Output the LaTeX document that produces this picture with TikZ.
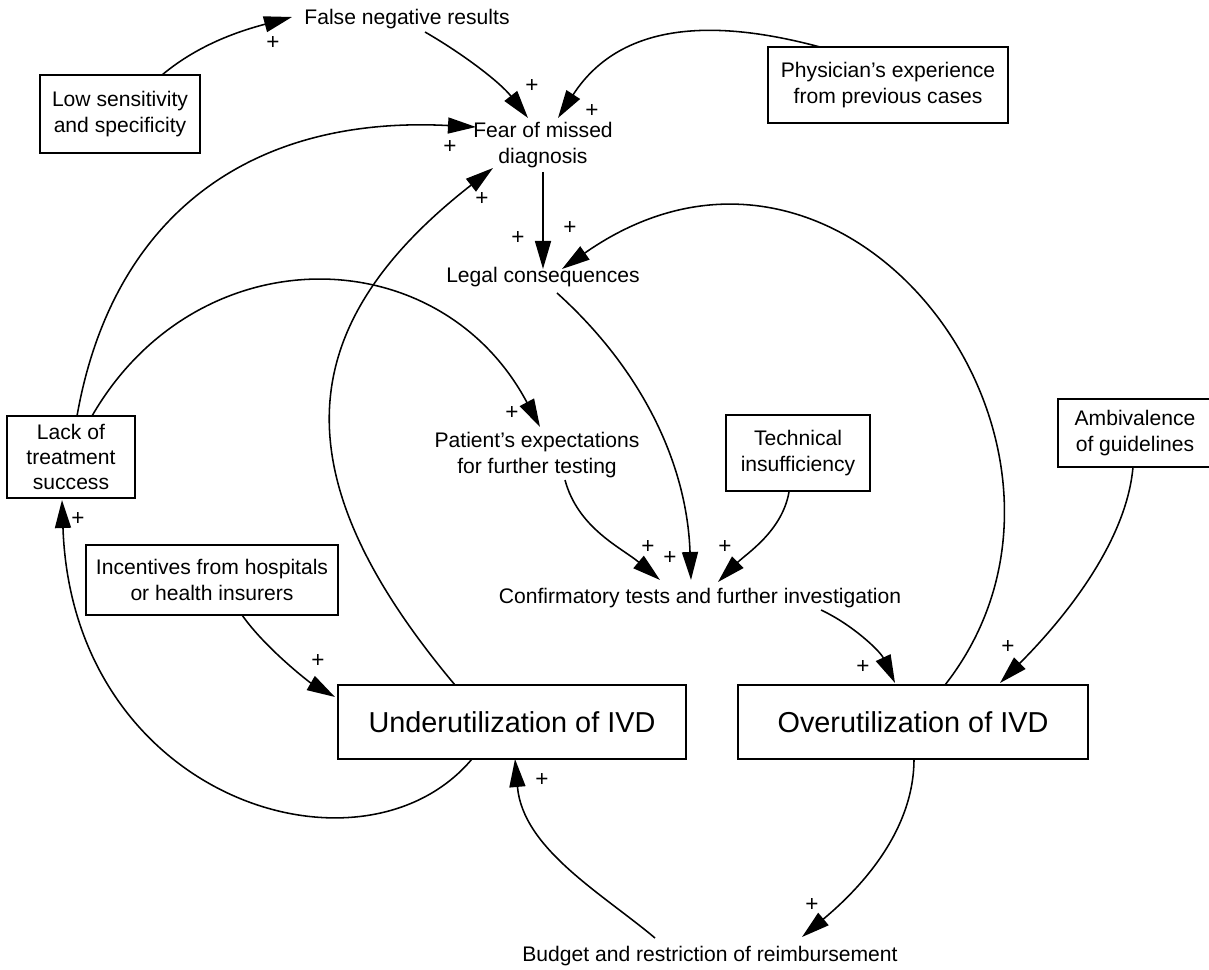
\documentclass[tikz,border=0pt]{standalone}
\usepackage{fontspec}
\setmainfont{Liberation Sans}
\usetikzlibrary{arrows.meta,calc}

\begin{document}
\begin{tikzpicture}[x=0.025cm,y=0.025cm,
  var/.style={font=\fontsize{15}{18}\selectfont, align=center, inner sep=0pt},
  box/.style={var, draw, line width=1.4pt},
  big/.style={box, font=\fontsize{20.5}{24}\selectfont},
  plus/.style={font=\fontsize{16}{18}\selectfont, inner sep=0pt},
  link/.style={line width=1.1pt, -{Triangle[length=0.7cm,width=0.4cm]}}]
\useasboundingbox (0,0) rectangle (1209,-970);
% variables
\node[var] (falseneg) at (407,-19) {False negative results};
\node[box, minimum width=4cm, minimum height=1.93cm] (lowsens) at (120,-114) {Low sensitivity\\and specificity};
\node[var] (fear) at (543,-145) {Fear of missed\\diagnosis};
\node[box, minimum width=6cm, minimum height=1.9cm] (physician) at (888,-85) {Physician’s experience\\from previous cases};
\node[var] (legal) at (543,-277) {Legal consequences};
\node[box, minimum width=3.18cm, minimum height=2.05cm] (lack) at (71,-457) {Lack of\\treatment\\success};
\node[var] (patient) at (537,-455) {Patient’s expectations\\for further testing};
\node[box, minimum width=3.6cm, minimum height=1.92cm] (technical) at (798,-453) {Technical\\insufficiency};
\node[box, minimum width=3.85cm, minimum height=1.7cm] (ambiv) at (1135,-433) {Ambivalence\\of guidelines};
\node[box, minimum width=6.3cm, minimum height=1.75cm] (incent) at (212,-580) {Incentives from hospitals\\or health insurers};
\node[var] (confirm) at (700,-598) {Confirmatory tests and further investigation};
\node[big, minimum width=8.7cm, minimum height=1.85cm] (underutil) at (512,-722) {Underutilization of IVD};
\node[big, minimum width=8.75cm, minimum height=1.85cm] (overutil) at (913,-722) {Overutilization of IVD};
\node[var] (budget) at (710,-956) {Budget and restriction of reimbursement};
% links
\draw[link] ($(lowsens)+(42,39)$) .. controls +(40:50) and +(195:50) .. ($(falseneg)+(-115,2)$);
\draw[link] ($(falseneg)+(18,-13)$) .. controls +(-30:45) and +(128:45) .. ($(fear)+(-15,27)$);
\draw[link] ($(physician)+(-68,38)$) .. controls +(165:100) and +(57:120) .. ($(fear)+(15,27)$);
\draw[link] ($(lack)+(6,41)$) .. controls +(80:200) and +(177:230) .. ($(fear)+(-67,18)$);
\draw[link] ($(underutil)+(-57,37)$) .. controls +(130:270) and +(218:260) .. ($(fear)+(-50,-23)$);
\draw[link] ($(fear)+(0,-27)$) -- ($(legal)+(0,8)$);
\draw[link] ($(overutil)+(32,37)$) .. controls +(52:300) and +(35:350) .. ($(legal)+(19,8)$);
\draw[link] ($(lack)+(21,41)$) .. controls +(60:210) and +(118:215) .. ($(patient)+(3,28)$);
\draw[link] ($(legal)+(14,-16)$) .. controls +(-42:110) and +(92:120) .. ($(confirm)+(-9,18)$);
\draw[link] ($(patient)+(28,-25)$) .. controls +(-75:50) and +(140:50) .. ($(confirm)+(-40,18)$);
\draw[link] ($(technical)+(-9,-39)$) .. controls +(-100:40) and +(45:40) .. ($(confirm)+(18,16)$);
\draw[link] ($(confirm)+(121,-12)$) .. controls +(-25:35) and +(115:35) .. ($(overutil)+(-18,39)$);
\draw[link] ($(ambiv)+(-2,-34)$) .. controls +(-95:80) and +(45:80) .. ($(overutil)+(87,39)$);
\draw[link] ($(incent)+(30,-35)$) .. controls +(-55:40) and +(150:30) .. ($(underutil)+(-177,25)$);
\draw[link] ($(underutil)+(-40,-37)$) .. controls +(-130:170) and +(-88:300) .. ($(lack)+(-9,-43)$);
\draw[link] ($(budget)+(-55,18)$) .. controls +(140:70) and +(-85:90) .. ($(underutil)+(3,-37)$);
\draw[link] ($(overutil)+(1,-37)$) .. controls +(-90:80) and +(40:60) .. ($(budget)+(92,19)$);
% polarities
\node[plus] (p1) at (273,-43) {+};
\node[plus] (p2) at (532,-86) {+};
\node[plus] (p3) at (592,-111) {+};
\node[plus] (p4) at (450,-147) {+};
\node[plus] (p5) at (482,-199) {+};
\node[plus] (p6) at (518,-238) {+};
\node[plus] (p7) at (570,-228) {+};
\node[plus] (p8) at (512,-413) {+};
\node[plus] (p9) at (670,-558) {+};
\node[plus] (p10) at (648,-547) {+};
\node[plus] (p11) at (725,-547) {+};
\node[plus] (p12) at (863,-667) {+};
\node[plus] (p13) at (1008,-647) {+};
\node[plus] (p14) at (318,-661) {+};
\node[plus] (p15) at (78,-519) {+};
\node[plus] (p16) at (542,-780) {+};
\node[plus] (p17) at (812,-905) {+};
\end{tikzpicture}
\end{document}
